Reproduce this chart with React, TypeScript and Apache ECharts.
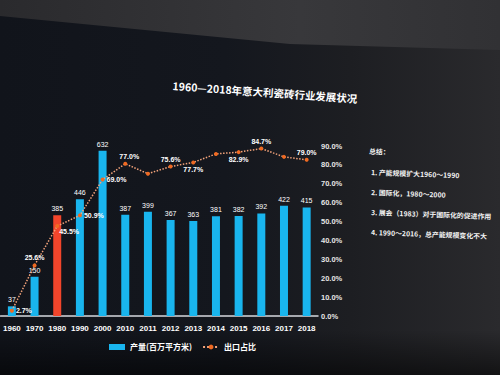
import React, { useEffect, useRef } from "react";
import * as echarts from "echarts";

const years = ["1960", "1970", "1980", "1990", "2000", "2010", "2011", "2012", "2013", "2014", "2015", "2016", "2017", "2018"];
const output = [37, 150, 385, 446, 632, 387, 399, 367, 363, 381, 382, 392, 422, 415];
const exportShare = [2.7, 25.6, 45.5, 50.9, 69.0, 77.0, 72.0, 75.6, 77.7, 82.0, 82.9, 84.7, 80.5, 79.0];
// label placement for each export point (null = no label)
const shareLabelPos: (string | null)[] = ["right", "top", "right", "right", "right", "top", null, "top", "bottom", null, "bottom", "top", null, "top"];
const highlightYear = "1980";
const rightTicks = { min: 0, max: 90, interval: 10 };
const titleText = "1960—2018年意大利瓷砖行业发展状况";
const summaryLines = [
  "总结：",
  "1. 产能规模扩大1960～1990",
  "2. 国际化，1980～2000",
  "3. 展会（1983）对于国际化的促进作用",
  "4. 1990～2016，总产能规模变化不大",
];
const legendNames = ["产量(百万平方米)", "出口占比"];

const FONT = "'Noto Sans CJK SC', 'Liberation Sans', sans-serif";

export default function App() {
  const ref = useRef<HTMLDivElement>(null);
  useEffect(() => {
    if (!ref.current) return;
    const chart = echarts.init(ref.current, null, { renderer: "svg" });
    const summaryY = [151, 172, 192, 212, 232];
    chart.setOption({
      animation: false,
      backgroundColor: "transparent",
      textStyle: { fontFamily: FONT },
      graphic: [
        {
          type: "polygon",
          shape: { points: [[0, 0], [500, 0], [500, 50], [290, 44], [0, 16]] },
          style: {
            fill: new echarts.graphic.LinearGradient(0, 0, 1, 0, [
              { offset: 0, color: "#2a2a2d" },
              { offset: 0.6, color: "#38383b" },
              { offset: 1, color: "#313134" },
            ]),
          },
          silent: true,
        },
        {
          type: "text",
          x: 265,
          y: 92,
          rotation: -0.07,
          style: {
            text: titleText,
            fill: "#ffffff",
            font: `bold 10.5px ${FONT}`,
            textAlign: "center",
            textVerticalAlign: "middle",
          },
        },
        ...summaryLines.map((t, i) => ({
          type: "text",
          x: i === 0 ? 369 : 371,
          y: summaryY[i],
          rotation: -0.035,
          style: {
            text: t,
            fill: "#f2f2f2",
            font: `bold 6.9px ${FONT}`,
            textAlign: "left",
            textVerticalAlign: "middle",
          },
        })),
      ],
      legend: {
        left: 104,
        top: 338,
        itemWidth: 16,
        itemHeight: 6,
        itemGap: 10,
        textStyle: { color: "#ffffff", fontSize: 8, fontWeight: "bold", fontFamily: FONT },
        data: [
          { name: legendNames[0], icon: "rect" },
          { name: legendNames[1] },
        ],
      },
      grid: { left: 0, right: 182, top: 146, bottom: 59, containLabel: false },
      xAxis: {
        type: "category",
        data: years,
        axisLine: { lineStyle: { color: "#d6d9de", width: 1.5 } },
        axisTick: { show: false },
        axisLabel: { color: "#ffffff", fontSize: 8, fontWeight: "bold", margin: 8, interval: 0, fontFamily: "'Liberation Sans', sans-serif" },
      },
      yAxis: [
        { type: "value", min: 0, max: 650, show: false },
        {
          type: "value",
          position: "right",
          min: rightTicks.min,
          max: rightTicks.max,
          interval: rightTicks.interval,
          axisLine: { show: false },
          axisTick: { show: false },
          splitLine: { show: false },
          axisLabel: {
            color: "#e6e6e6",
            fontSize: 7.5,
            fontWeight: "bold",
            margin: 3,
            fontFamily: "'Liberation Sans', sans-serif",
            formatter: (v: number) => v.toFixed(1) + "%",
          },
        },
        { type: "value", min: 0, max: 86, show: false },
      ],
      series: [
        {
          name: legendNames[0],
          type: "bar",
          yAxisIndex: 0,
          barWidth: 8,
          itemStyle: { color: "#19b5ee" },
          data: output.map((v, i) => ({
            value: v,
            itemStyle: { color: years[i] === highlightYear ? "#f2452b" : "#19b5ee" },
          })),
          label: {
            show: true,
            position: "top",
            distance: 3,
            color: "#ffffff",
            fontSize: 7,
            fontFamily: "'Liberation Sans', sans-serif",
          },
        },
        {
          name: legendNames[1],
          type: "line",
          yAxisIndex: 2,
          symbol: "circle",
          symbolSize: 4,
          itemStyle: { color: "#f06a22" },
          lineStyle: { color: "#f3a37a", width: 1.5, type: "dotted" },
          data: exportShare.map((v, i) => ({
            value: v,
            label: shareLabelPos[i]
              ? {
                  show: true,
                  position: shareLabelPos[i],
                  distance: 2,
                  offset: i === 2 ? [-2, 5] : i === 5 ? [4, 0] : [0, 0],
                }
              : { show: false },
          })),
          label: {
            color: "#ffffff",
            fontSize: 7,
            fontWeight: "bold",
            fontFamily: "'Liberation Sans', sans-serif",
            formatter: (p: any) => Number(p.value).toFixed(1) + "%",
          },
        },
      ],
    });
    return () => chart.dispose();
  }, []);
  return (
    <div
      ref={ref}
      style={{
        position: "fixed",
        left: 0,
        top: 0,
        width: 500,
        height: 375,
        background:
          "linear-gradient(to bottom, rgba(0,0,0,0) 88%, rgba(0,0,0,0.55) 100%), linear-gradient(to right, #11141b 0%, #14171e 45%, #1d1e22 70%, #2a2a2d 100%)",
      }}
    />
  );
}
